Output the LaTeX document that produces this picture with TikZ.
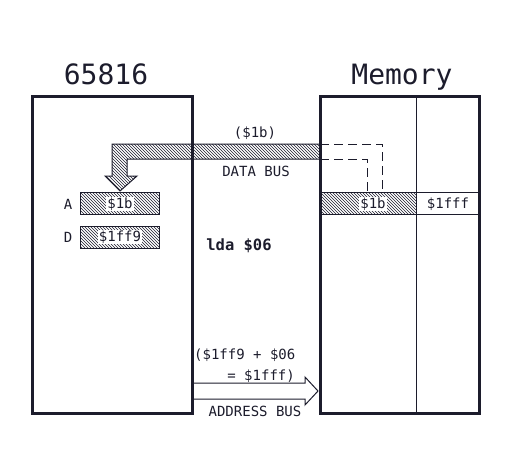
\documentclass[tikz,border=0pt]{standalone}
\usepackage{fontspec}
\setmainfont{DejaVu Sans Mono}
\usetikzlibrary{patterns}
\definecolor{ink}{RGB}{28,28,44}
\begin{document}
\begin{tikzpicture}[x=1pt,y=-1pt,
  thickbox/.style={draw=ink,line width=3pt},
  thin/.style={draw=ink,line width=1pt},
  hatch/.style={draw=ink,line width=1pt,pattern=north west lines,pattern color=ink},
  lbl/.style={font=\fontsize{14}{16}\selectfont,text=ink,inner sep=1pt},
  wlbl/.style={lbl,fill=white},
  title/.style={font=\fontsize{28}{31}\selectfont,text=ink,anchor=base}]
\useasboundingbox (0,0) rectangle (512,448);
% titles
\node[title] (t1) at (106,84) {65816};
\node[title] (t2) at (402,84) {Memory};
% Memory contents
\draw[thin] (416,96) -- (416,413);
\draw[thin] (320,192) -- (479,192);
\draw[thin] (320,214) -- (479,214);
\draw[hatch] (320,192) rectangle (416,214);
\node[wlbl] (m1) at (373,204) {\$1b};
\node[lbl] (m2) at (448,204) {\$1fff};
% registers
\draw[hatch] (80,192) rectangle (159,214);
\node[wlbl] (ra) at (120,204) {\$1b};
\node[lbl] (la) at (68,204) {A};
\draw[hatch] (80,226) rectangle (159,248);
\node[wlbl] (rd) at (120,237) {\$1ff9};
\node[lbl] (ld) at (68,237) {D};
% data bus
\draw[hatch] (320,144) -- (112,144) -- (112,176) -- (105,176) -- (120,191) -- (137,176) -- (127,176) -- (127,159) -- (320,159) -- cycle;
\draw[thin,dash pattern=on 9pt off 5pt] (320,144) -- (382,144) -- (382,192);
\draw[thin,dash pattern=on 9pt off 5pt] (320,159) -- (367,159) -- (367,192);
\node[lbl] (v1) at (255,133) {(\$1b)};
\node[lbl] (db) at (256,171) {DATA BUS};
% instruction
\node[font=\fontsize{15.5}{18}\selectfont\bfseries,text=ink] (ins) at (239,246) {lda \$06};
% address bus
\draw[thin,fill=white] (192,383) -- (305,383) -- (305,377) -- (318,391) -- (305,405) -- (305,399) -- (192,399);
\node[lbl,anchor=west] (ad1) at (193,355) {(\$1ff9 + \$06};
\node[lbl,anchor=east] (ad2) at (296,376) {= \$1fff)};
\node[lbl] (ab) at (255,411) {ADDRESS BUS};
% boxes on top
\draw[thickbox] (32,96) rectangle (192,413);
\draw[thickbox] (320,96) rectangle (479,413);
\node (cpu) at (112,255) {};
\end{tikzpicture}
\end{document}
